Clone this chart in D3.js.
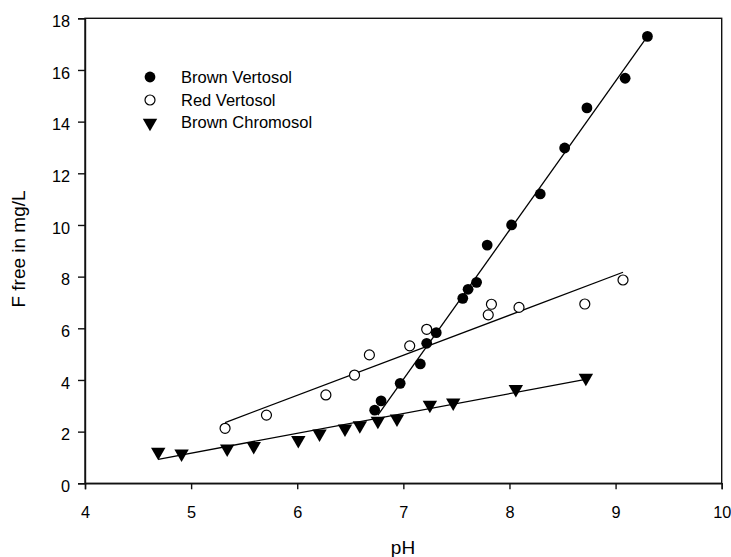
<!DOCTYPE html>
<html><head><meta charset="utf-8">
<script src="https://cdn.jsdelivr.net/npm/d3@7"></script>
<style>body{margin:0;background:#fff}svg{display:block}text{font-family:"Liberation Sans",Arial,sans-serif;fill:#000}</style>
</head><body>
<script>
const xTicks = [4,5,6,7,8,9,10];
const yTicks = [0,2,4,6,8,10,12,14,16,18];
const seriesNames = ["Brown Vertosol","Red Vertosol","Brown Chromosol"];

const bvPH = [6.73,6.79,6.97,7.16,7.22,7.31,7.56,7.61,7.69,7.79,8.02,8.29,8.52,8.73,9.09,9.30];
const bvF  = [2.83,3.19,3.87,4.62,5.42,5.83,7.16,7.51,7.78,9.22,10.0,11.2,12.98,14.53,15.68,17.3];

const rvPH = [5.32,5.71,6.27,6.54,6.68,7.06,7.22,7.80,7.83,8.09,8.71,9.07];
const rvF  = [2.13,2.64,3.42,4.19,4.97,5.32,5.96,6.52,6.93,6.81,6.94,7.87];

const bcPH = [4.69,4.91,5.34,5.59,6.01,6.21,6.45,6.59,6.76,6.94,7.25,7.47,8.06,8.72];
const bcF  = [1.25,1.19,1.38,1.48,1.71,1.96,2.15,2.28,2.45,2.54,3.07,3.16,3.68,4.12];

// fitted lines (start/end)
const bvFit = [[6.76,2.64],[9.30,17.3]];
const rvFit = [[5.32,2.35],[9.07,8.17]];
const bcFit = [[4.69,0.93],[8.73,4.03]];

const W=731,H=557;
const svg=d3.select("body").append("svg").attr("width",W).attr("height",H);
const x=d3.scaleLinear().domain([4,10]).range([85,721.7]);
const y=d3.scaleLinear().domain([0,18]).range([483.3,18.3]);

// frame
svg.append("rect").attr("x",x(4)).attr("y",y(18)).attr("width",x(10)-x(4)).attr("height",y(0)-y(18))
  .attr("fill","none").attr("stroke","#111").attr("stroke-width",1.4);

const xa=svg.append("g").attr("transform",`translate(0,${y(0)})`)
  .call(d3.axisBottom(x).tickValues(xTicks).tickSize(6).tickPadding(17).tickFormat(d3.format("d")));
const ya=svg.append("g").attr("transform",`translate(${x(4)},0)`)
  .call(d3.axisLeft(y).tickValues(yTicks).tickSize(7).tickPadding(8).tickFormat(d3.format("d")));
[xa,ya].forEach(a=>{
  a.select(".domain").attr("stroke","#111").attr("stroke-width",1.4);
  a.selectAll(".tick line").attr("stroke","#111").attr("stroke-width",1.4);
  a.selectAll("text").style("font-size","16.3px").attr("fill","#000");
});
ya.selectAll("text").attr("dy","0.5em");
xa.selectAll("text").attr("dy","0.71em");

svg.append("text").attr("x",403).attr("y",554).attr("text-anchor","middle").style("font-size","19px").text("pH");
svg.append("text").attr("transform","translate(25,249) rotate(-90)").attr("text-anchor","middle").style("font-size","19px").text("F free in mg/L");

const line=d3.line().x(d=>x(d[0])).y(d=>y(d[1]));
[bvFit,rvFit,bcFit].forEach(f=>svg.append("path").attr("d",line(f)).attr("fill","none").attr("stroke","#000").attr("stroke-width",1.3));

const tri=d3.symbol().type(d3.symbolTriangle).size(90)();
function drawMarker(g,type){
  if(type===0) g.append("circle").attr("r",5.4).attr("fill","#000");
  else if(type===1) g.append("circle").attr("r",5.0).attr("fill","#fff").attr("stroke","#000").attr("stroke-width",1.2);
  else g.append("path").attr("d",tri).attr("transform","rotate(180) translate(0,-1)").attr("fill","#000");
}
const sets=[[bvPH,bvF,0],[rvPH,rvF,1],[bcPH,bcF,2]];
[sets[1],sets[2],sets[0]].forEach(([px,py,t])=>{
  px.forEach((v,i)=>{
    const g=svg.append("g").attr("transform",`translate(${x(v)},${y(py[i])})`);
    drawMarker(g,t);
  });
});

// legend
const legY=[77,100,122];
seriesNames.forEach((n,i)=>{
  const g=svg.append("g").attr("transform",`translate(150,${legY[i]})`);
  drawMarker(g,i);
  svg.append("text").attr("x",181).attr("y",legY[i]+6).style("font-size","16.5px").text(n);
});
</script>
</body></html>
